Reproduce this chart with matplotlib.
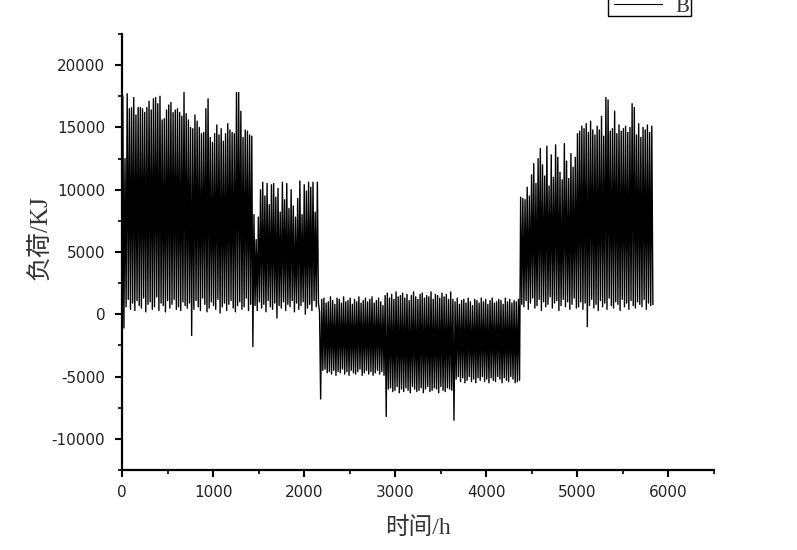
import numpy as np
import matplotlib
matplotlib.use("Agg")
import matplotlib.pyplot as plt
from matplotlib.patches import Rectangle
from matplotlib.lines import Line2D
from matplotlib.ticker import MultipleLocator

plt.rcParams["axes.unicode_minus"] = False

# Daily peak / trough load values (KJ), one pair per day (24 h)
peaks_a = [17500, 12500, 17700, 16500, 16600, 17400, 16000, 16600, 16600, 16500,
           16200, 16600, 17100, 16400, 17300, 17400, 16900, 17500, 15600, 15700,
           16400, 16800, 17000, 16200, 16400, 16500, 16200, 15900, 17800, 16100,
           15600, 15000, 14900, 16000, 15500, 15000, 14500, 14600, 16500, 17300,
           14200, 13800, 14500, 15200, 14400, 14900, 13900, 14500, 15300, 14800,
           14600, 14500, 17800, 17800, 16300, 14200, 14800, 14700, 14400, 14300]
troughs_a = [-1100, 600, 1200, 400, 900, 300, 1100, 700, 500, 1300,
             200, 800, 1000, 400, 600, 1400, 300, 900, 700, 200,
             1100, 500, 800, 1200, 400, 600, 300, 1000, 700, 500,
             900, -1700, 400, 1100, 600, 300, 1300, 800, 200, 500,
             1000, 700, 400, 1200, 100, 600, 900, 300, 800, 1100,
             500, 200, 700, 1000, 400, 600, 1300, 300, 800, -2600]
peaks_b = [8000, 6000, 7800, 10000, 10600, 9500, 10500, 8800, 10400, 10500,
           9400, 10100, 8200, 10600, 9200, 10500, 8500, 10000, 8700, 7800,
           9300, 10700, 8000, 10400, 9900, 10600, 10200, 10600, 8200, 10600]
troughs_b = [700, 300, 1000, 500, 800, 200, 1100, 600, 400, 900,
             -300, 700, 500, 1000, 300, 800, 600, 1100, 200, 900,
             400, 700, 1000, 0, 500, 800, 300, 1100, 600, 900]
peaks_c = [200, 1200, 1300, 900, 1000, 1400, 1100, 800, 1300, 1200,
           900, 1400, 1000, 1100, 1300, 800, 1200, 1000, 1400, 900,
           1100, 1300, 1000, 1200, 1400, 900, 1100, 1300, 1000, 700,
           1500, 1700, 1300, 1600, 1200, 1800, 1400, 1500, 1700, 1300,
           1600, 1100, 1500, 1800, 1400, 1200, 1600, 1700, 1300, 1500,
           1400, 1800, 1200, 1600, 1500, 1300, 1700, 1400, 1600, 1200, 1800,
           1200, 1000, 1300, 800, 1100, 1200, 900, 1300, 1000, 700,
           1200, 1100, 900, 1300, 1000, 1200, 800, 1100, 1300, 900,
           1000, 1200, 1100, 800, 1300, 1000, 1200, 900, 1100, 1000, 1200]
troughs_c = [-6800, -4500, -4400, -4700, -4600, -4800, -4500, -4900, -4600, -4700,
             -4400, -4800, -4600, -4900, -4500, -4700, -4800, -4600, -4400, -4900,
             -4700, -4500, -4800, -4600, -4900, -4700, -4500, -4800, -4600, -4900,
             -8200, -6000, -5900, -6200, -6100, -5800, -6300, -6000, -6200, -5900,
             -6100, -6300, -5800, -6000, -6200, -6100, -5900, -6300, -6000, -5800,
             -6200, -6100, -5900, -6000, -6300, -5800, -6100, -6200, -5900, -6000, -6100,
             -8500, -5200, -5000, -5400, -5100, -5500, -5300, -5000, -5400, -5200,
             -5500, -5100, -5300, -5000, -5400, -5200, -5500, -5100, -5300, -5400,
             -5000, -5200, -5500, -5100, -5300, -5400, -5000, -5200, -5500, -5400, -5300]
peaks_d = [9400, 9300, 9200, 10200, 9500, 11200, 12100, 10500, 12500, 13300,
           12000, 11100, 13500, 10300, 12800, 11000, 13600, 12600, 11400, 10800,
           13700, 12300, 10900, 12900, 11800, 12600,
           14500, 14700, 15100, 14900, 15300, 14600, 15500, 14800, 14400, 15100,
           14800, 15900, 14300, 17400, 17200, 14700, 14900, 16300, 14500, 15200,
           14700, 14900, 15100, 14600, 15000, 16900, 16600, 14400, 15300, 14200,
           15000, 14800, 15200, 14600, 15100]
troughs_d = [800, 600, 1100, 400, 900, 1300, 500, 700, 1200, 300,
             1000, 600, 800, 1400, 500, 900, 1100, 300, 700, 1200,
             600, 1000, 400, 800, 1300, 500,
             600, 1000, 400, 900, -1000, 700, 1200, 500, 800, 300,
             1100, 600, 900, 400, 1300, 700, 500, 1000, 800, 300,
             1200, 600, 900, 400, 1100, 700, 500, 1000, 800, 600,
             1200, 400, 900, 700, 800]

peaks = peaks_a + peaks_b + peaks_c + peaks_d
troughs = troughs_a + troughs_b + troughs_c + troughs_d
n = min(len(peaks), len(troughs))

# hourly series: peak at hour 9 of each day, trough at hour 21
x = np.empty(2 * n)
y = np.empty(2 * n)
days = np.arange(n)
x[0::2] = days * 24 + 9
x[1::2] = days * 24 + 21
y[0::2] = peaks[:n]
y[1::2] = troughs[:n]

W, H = 797, 550
fig = plt.figure(figsize=(W / 100, H / 100), dpi=100)
ax = fig.add_axes([122 / W, 80 / H, (714 - 122) / W, (470 - 34) / H])

ax.plot(x, y, color="black", lw=1.0)

ax.set_xlim(0, 6500)
ax.set_ylim(-12500, 22500)
ax.xaxis.set_major_locator(MultipleLocator(1000))
ax.xaxis.set_minor_locator(MultipleLocator(500))
ax.yaxis.set_major_locator(MultipleLocator(5000))
ax.yaxis.set_minor_locator(MultipleLocator(2500))

for s in ["top", "right"]:
    ax.spines[s].set_visible(False)
for s in ["left", "bottom"]:
    ax.spines[s].set_linewidth(1.6)

ax.tick_params(which="major", direction="out", length=5, width=1.5,
               labelsize=11, labelcolor="#222222")
ax.tick_params(which="minor", direction="out", length=3, width=1.2)
ax.tick_params(axis="x", which="major", pad=6)
ax.tick_params(axis="y", which="major", pad=7)
for lab in ax.get_xticklabels() + ax.get_yticklabels():
    lab.set_family("DejaVu Sans")

lab_fam = ["Liberation Serif", "Noto Sans CJK SC", "DejaVu Sans"]
ax.set_xlabel("时间/h", fontsize=17, family=lab_fam, color="#333333")
ax.xaxis.set_label_coords(0.5, -(527 - 470 + 12) / 436)
ax.xaxis.label.set_va("bottom")
ax.set_ylabel("负荷/KJ", fontsize=18, family=lab_fam, color="#333333")
ax.yaxis.set_label_coords((40 - 122) / 592, (470 - 238) / 436)
ax.yaxis.label.set_va("center")

# legend box (partially cut off at the top of the image)
fig.patches.append(Rectangle((608 / W, 1 - 16 / H), (691 - 608) / W, 0.05,
                             transform=fig.transFigure, fill=False,
                             edgecolor="black", lw=1.0))
fig.lines.append(Line2D([614 / W, 662 / W], [1 - 3.5 / H, 1 - 3.5 / H],
                        transform=fig.transFigure, color="black", lw=0.8))
fig.text(675 / W, 1 - 12.5 / H, "B", fontsize=15, family="Liberation Serif",
         va="baseline", ha="left", color="#333333")

fig.savefig("out.png", dpi=100)
